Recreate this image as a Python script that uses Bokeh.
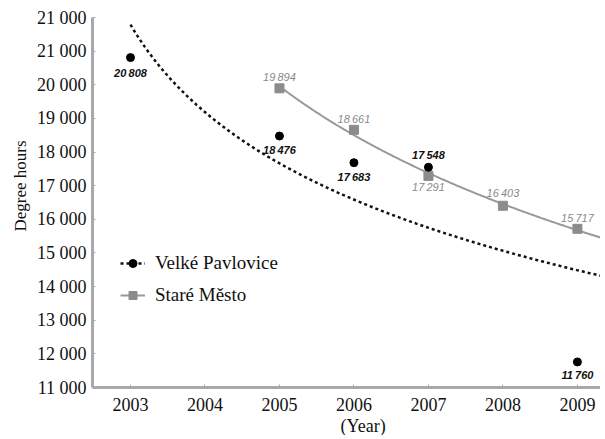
import numpy as np
from bokeh.plotting import figure
from bokeh.models import ColumnDataSource, FixedTicker, Legend, LegendItem, Title
from bokeh.core.properties import value
from bokeh.embed import file_html
from bokeh.resources import INLINE

# ---- data ----
vp_years = [2003, 2005, 2006, 2007, 2009]
vp_values = [20808, 18476, 17683, 17548, 11760]
sm_years = [2005, 2006, 2007, 2008, 2009]
sm_values = [19894, 18661, 17291, 16403, 15717]
x_ticks = [2003, 2004, 2005, 2006, 2007, 2008, 2009]
y_ticks = [11000, 12000, 13000, 14000, 15000, 16000, 17000, 18000, 19000, 20000, 21000, 22000]
y_tick_labels = ["11 000", "12 000", "13 000", "14 000", "15 000", "16 000", "17 000",
                 "18 000", "19 000", "20 000", "21 000", "21 000"]
vp_label = "Velké Pavlovice"
sm_label = "Staré Město"
x_title = "(Year)"
y_title = "Degree hours"

X0, X1 = 2002.49, 2009.31
BASE = 2002  # trend index: year - 2002 (Excel-style series index)

def log_trend(years, vals, x_from, x_to):
    t = np.log(np.array(years) - BASE)
    b, a = np.polyfit(t, np.array(vals, dtype=float), 1)
    xs = np.linspace(x_from, x_to, 200)
    return xs, a + b * np.log(xs - BASE)

vp_tx, vp_ty = log_trend(vp_years, vp_values, 2003, X1)
sm_tx, sm_ty = log_trend(sm_years, sm_values, 2005, X1)

fmt = lambda v: f"{v // 1000}\u2009{v % 1000:03d}"

SERIF = "Liberation Serif"

p = figure(width=600, height=435, x_range=(X0, X1), y_range=(11000, 22000),
           output_backend="svg", toolbar_location=None,
           min_border_left=92, min_border_right=0, min_border_top=17, min_border_bottom=48)
p.outline_line_color = None
p.xgrid.visible = False
p.ygrid.visible = False
p.background_fill_color = "white"
p.border_fill_color = "white"

for ax in (p.xaxis[0], p.yaxis[0]):
    ax.axis_line_color = "#a8a8a8"
    ax.axis_line_width = 3
    ax.major_tick_line_color = "#a8a8a8"
    ax.major_tick_in = 3
    ax.major_tick_out = 0
    ax.minor_tick_line_color = None
    ax.major_label_text_font = SERIF
    ax.major_label_text_font_size = "18px"
    ax.major_label_text_color = "#111111"

p.xaxis.ticker = FixedTicker(ticks=x_ticks)
p.yaxis.ticker = FixedTicker(ticks=y_ticks)
p.yaxis.major_label_overrides = {t: l for t, l in zip(y_ticks, y_tick_labels)}
p.xaxis.major_label_standoff = 10
p.yaxis.major_label_standoff = 6

# axis titles (placed off-centre as in the reference)
p.add_layout(Title(text=y_title, align="right", offset=123, standoff=8,
                   text_font=SERIF, text_font_size="17px", text_font_style="normal",
                   text_color="#111111"), "left")
p.add_layout(Title(text=x_title, align="left", offset=248, standoff=0,
                   text_font=SERIF, text_font_size="18px", text_font_style="normal",
                   text_color="#111111"), "below")

# trends
vp_line = p.line(vp_tx, vp_ty, line_color="#111111", line_width=2.5, line_dash="3 3")
sm_line = p.line(sm_tx, sm_ty, line_color="#999999", line_width=2)

# markers
sm_src = ColumnDataSource(dict(x=sm_years, y=sm_values, t=[fmt(v) for v in sm_values],
                               off=[-11, -11, 11, -13, -11]))
vp_src = ColumnDataSource(dict(x=vp_years, y=vp_values, t=[fmt(v) for v in vp_values],
                               off=[15, 14, 14, -12, 13]))
sm_pts = p.scatter("x", "y", source=sm_src, marker="square", size=9,
                   fill_color="#8c8c8c", line_color="#8c8c8c")
vp_pts = p.scatter("x", "y", source=vp_src, marker="circle", size=8,
                   fill_color="black", line_color="black")

p.text("x", "y", text="t", source=sm_src, y_offset="off", text_align="center",
       text_baseline="middle", text_font=value("Liberation Sans"), text_font_size="11px",
       text_font_style="italic", text_color="#8a8a8a")
p.text("x", "y", text="t", source=vp_src, y_offset="off", text_align="center",
       text_baseline="middle", text_font=value("Liberation Sans"), text_font_size="11px",
       text_font_style="bold italic", text_color="#111111")

legend = Legend(items=[LegendItem(label=vp_label, renderers=[vp_line, vp_pts]),
                       LegendItem(label=sm_label, renderers=[sm_line, sm_pts])],
                location=(28, 81), orientation="vertical")
legend.background_fill_alpha = 0
legend.border_line_color = None
legend.padding = 0
legend.margin = 0
legend.spacing = 10
legend.glyph_width = 25
legend.glyph_height = 20
legend.label_standoff = 10
legend.label_text_font = SERIF
legend.label_text_font_size = "19px"
legend.label_text_color = "#111111"
p.add_layout(legend)

open("out.html", "w").write(file_html(p, INLINE))
